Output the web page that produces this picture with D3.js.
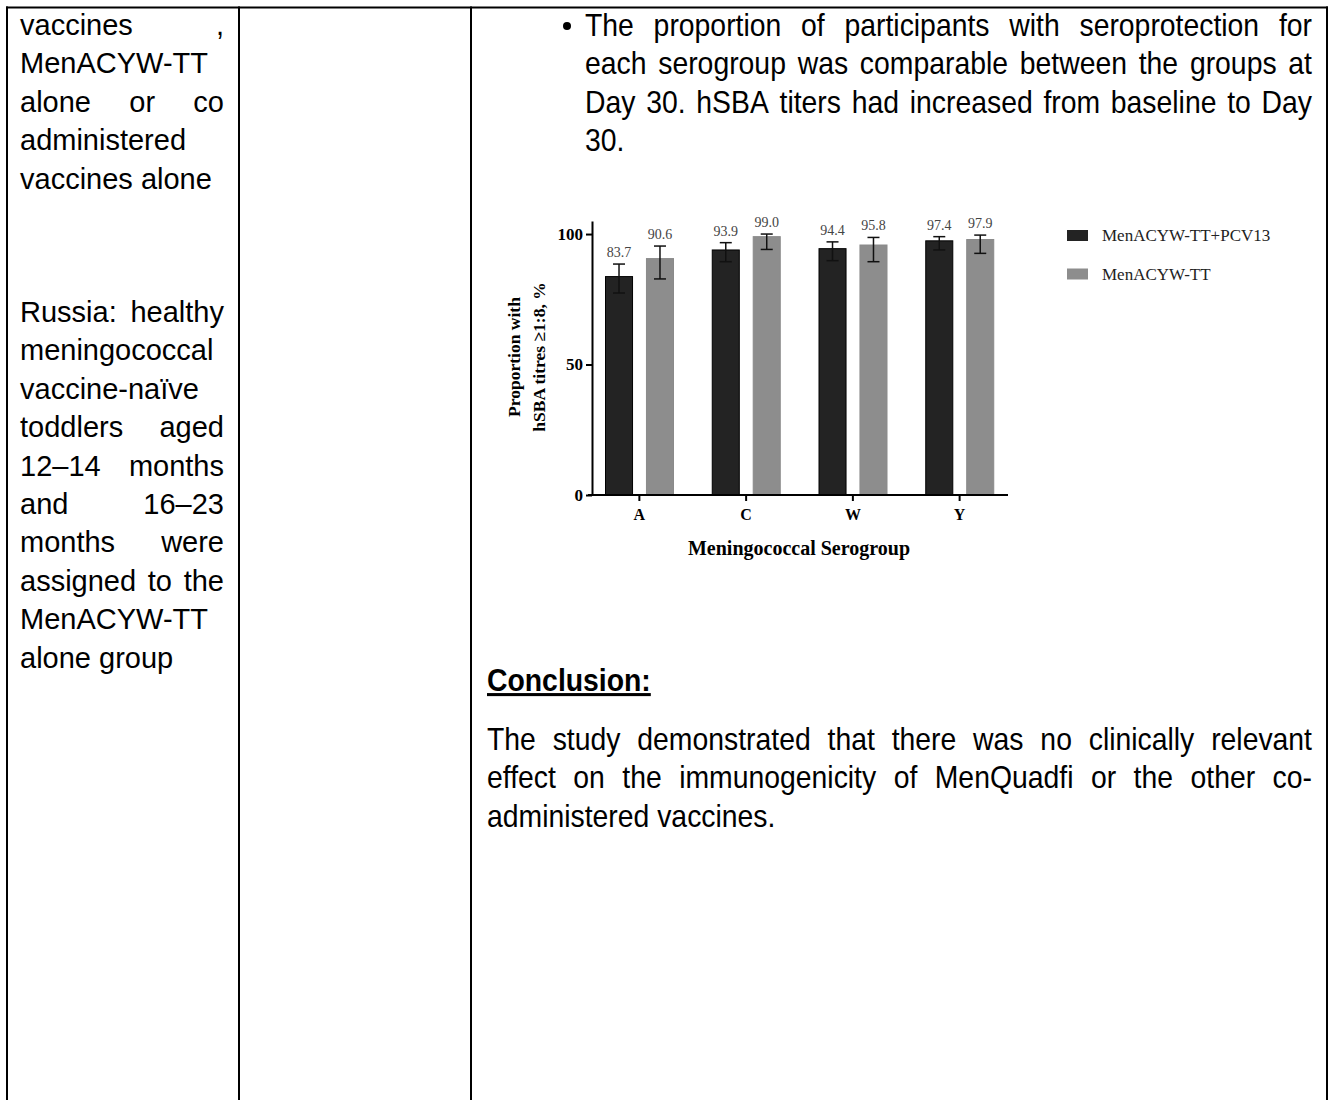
<!DOCTYPE html>
<html>
<head>
<meta charset="utf-8">
<script src="https://cdn.jsdelivr.net/npm/d3@7"></script>
<style>
  body { margin: 0; background: #fff; }
  svg { display: block; }
</style>
</head>
<body>
<script>
// chart data: serogroups and the two study groups
var serogroups = ["A", "C", "W", "Y"];
var groupNames = ["MenACYW-TT+PCV13", "MenACYW-TT"];
var coadminPct = [83.7, 93.9, 94.4, 97.4];
var coadminLow = [77.4, 89.4, 89.8, 93.9];
var coadminHigh = [88.5, 96.7, 97.0, 99.0];
var alonePct = [90.6, 99.0, 95.8, 97.9];
var aloneLow = [82.8, 94.1, 89.4, 92.6];
var aloneHigh = [95.4, 100.0, 98.7, 99.6];
var yTicks = [0, 50, 100];
var yTitle = ["Proportion with", "hSBA titres \u22651:8, %"];
var xTitle = "Meningococcal Serogroup";

// document text around the chart, [line, justified]
var leftPara1 = [["vaccines ,", true], ["MenACYW-TT", false], ["alone or co", true],
  ["administered", false], ["vaccines alone", false]];
var leftPara2 = [["Russia: healthy", true], ["meningococcal", false], ["vaccine-na\u00efve", false],
  ["toddlers aged", true], ["12\u201314 months", true], ["and 16\u201323", true],
  ["months were", true], ["assigned to the", true], ["MenACYW-TT", false], ["alone group", false]];
var bulletLines = [["The proportion of participants with seroprotection for", true],
  ["each serogroup was comparable between the groups at", true],
  ["Day 30. hSBA titers had increased from baseline to Day", true], ["30.", false]];
var conclusionHead = "Conclusion:";
var conclusionLines = [["The study demonstrated that there was no clinically relevant", true],
  ["effect on the immunogenicity of MenQuadfi or the other co-", true],
  ["administered vaccines.", false]];

var W = 1329, H = 1100;
var svg = d3.select("body").append("svg")
  .attr("width", W)
  .attr("height", H);

// table borders
var cols = [7, 239, 471, 1327];
svg.append("line").attr("x1", 6).attr("x2", 1328).attr("y1", 7.5).attr("y2", 7.5)
  .attr("stroke", "#000").attr("stroke-width", 2);
svg.selectAll(".colLine")
  .data(cols)
  .enter()
  .append("line")
    .attr("x1", function(d) { return d; })
    .attr("x2", function(d) { return d; })
    .attr("y1", 6.5)
    .attr("y2", H)
    .attr("stroke", "#000")
    .attr("stroke-width", 2);

var docFont = "'Liberation Sans', Arial, sans-serif";

// write one line, spreading words over the width when justified
function textLine(g, str, x, y, w, justify, size, weight) {
  var t = g.append("text")
    .attr("y", y)
    .attr("font-family", docFont)
    .attr("font-size", size)
    .attr("font-weight", weight || "normal")
    .attr("fill", "#000");
  var words = str.split(" ");
  if (!justify || words.length < 2) {
    t.attr("x", x).text(str);
    return t;
  }
  var widths = words.map(function(wd) {
    var tmp = g.append("text")
      .attr("font-family", docFont)
      .attr("font-size", size)
      .text(wd);
    var l = tmp.node().getComputedTextLength();
    tmp.remove();
    return l;
  });
  var gap = (w - d3.sum(widths)) / (words.length - 1);
  var cx = x;
  words.forEach(function(wd, i) {
    t.append("tspan").attr("x", cx).text(wd);
    cx += widths[i] + gap;
  });
  return t;
}

var lh = 38.4;
var left = svg.append("g");
leftPara1.forEach(function(l, i) { textLine(left, l[0], 20, 35 + i * lh, 204, l[1], 29); });
leftPara2.forEach(function(l, i) { textLine(left, l[0], 20, 322 + i * lh, 204, l[1], 29); });

// right column uses a slightly condensed face
var sx = 0.93, rSize = 30.5;
svg.append("circle").attr("cx", 567).attr("cy", 26).attr("r", 4).attr("fill", "#000");
var bullet = svg.append("g").attr("transform", "translate(585,0) scale(" + sx + ",1)");
bulletLines.forEach(function(l, i) { textLine(bullet, l[0], 0, 36 + i * lh, 727 / sx, l[1], rSize); });

var concl = svg.append("g").attr("transform", "translate(487,0) scale(" + sx + ",1)");
textLine(concl, conclusionHead, 0, 691, 0, false, rSize, "bold")
  .attr("text-decoration", "underline");
conclusionLines.forEach(function(l, i) { textLine(concl, l[0], 0, 750 + i * lh, 825 / sx, l[1], rSize); });

// ---- chart ----
var serif = "'Liberation Serif', 'Times New Roman', serif";
var chart = svg.append("g");

var rows = serogroups.map(function(s, i) {
  return {
    group: s,
    vals: [
      {key: groupNames[0], v: coadminPct[i], lo: coadminLow[i], hi: coadminHigh[i]},
      {key: groupNames[1], v: alonePct[i], lo: aloneLow[i], hi: aloneHigh[i]}
    ]
  };
});

var y = d3.scaleLinear()
  .domain([0, 105])
  .range([495, 221]);

var x0 = d3.scaleBand()
  .domain(serogroups)
  .range([586, 1013]);

var x1 = d3.scaleBand()
  .domain(groupNames)
  .range([19.5, 87.5])
  .paddingInner(0.34);

var color = d3.scaleOrdinal()
  .domain(groupNames)
  .range(["#232323", "#8d8d8d"]);

// bars
var grp = chart.selectAll(".grp")
  .data(rows)
  .enter()
  .append("g")
    .attr("transform", function(d) { return "translate(" + x0(d.group) + ",0)"; });

grp.selectAll("rect")
  .data(function(d) { return d.vals; })
  .enter()
  .append("rect")
    .attr("x", function(d) { return x1(d.key); })
    .attr("width", x1.bandwidth())
    .attr("y", function(d) { return y(d.v); })
    .attr("height", function(d) { return y(0) - y(d.v); })
    .attr("fill", function(d) { return color(d.key); })
    .attr("stroke", function(d, i) { return i == 0 ? "#000" : "#8a8a8a"; })
    .attr("stroke-width", 1);

// error bars
var err = grp.selectAll(".err")
  .data(function(d) { return d.vals; })
  .enter()
  .append("g")
    .attr("stroke", "#111")
    .attr("stroke-width", 1.5);
err.append("line")
  .attr("x1", function(d) { return x1(d.key) + x1.bandwidth() / 2; })
  .attr("x2", function(d) { return x1(d.key) + x1.bandwidth() / 2; })
  .attr("y1", function(d) { return y(d.lo); })
  .attr("y2", function(d) { return y(d.hi); });
err.append("line")
  .attr("x1", function(d) { return x1(d.key) + x1.bandwidth() / 2 - 6; })
  .attr("x2", function(d) { return x1(d.key) + x1.bandwidth() / 2 + 6; })
  .attr("y1", function(d) { return y(d.hi); })
  .attr("y2", function(d) { return y(d.hi); });
err.append("line")
  .attr("x1", function(d) { return x1(d.key) + x1.bandwidth() / 2 - 6; })
  .attr("x2", function(d) { return x1(d.key) + x1.bandwidth() / 2 + 6; })
  .attr("y1", function(d) { return y(d.lo); })
  .attr("y2", function(d) { return y(d.lo); });

// value labels
grp.selectAll(".lbl")
  .data(function(d) { return d.vals; })
  .enter()
  .append("text")
    .attr("x", function(d) { return x1(d.key) + x1.bandwidth() / 2; })
    .attr("y", function(d) { return y(d.hi) - 7; })
    .attr("text-anchor", "middle")
    .attr("font-family", serif)
    .attr("font-size", 14)
    .attr("fill", "#444")
    .text(function(d) { return d.v.toFixed(1); });

// Y axis
var yAxis = chart.append("g")
  .attr("transform", "translate(592,0)")
  .call(d3.axisLeft(y).tickValues(yTicks).tickSize(6).tickPadding(3).tickSizeOuter(0));
yAxis.select(".domain").attr("stroke-width", 2);
yAxis.selectAll(".tick line").attr("stroke-width", 2);
yAxis.selectAll(".tick text")
  .attr("font-family", serif)
  .attr("font-size", 17)
  .attr("font-weight", "bold")
  .attr("fill", "#000");

// X axis
var xAxis = chart.append("g")
  .attr("transform", "translate(0,495)")
  .call(d3.axisBottom(x0).tickSize(6).tickPadding(8).tickSizeOuter(0));
xAxis.select(".domain").attr("d", "M588,0H1008").attr("stroke-width", 2);
xAxis.selectAll(".tick line").attr("stroke-width", 2);
xAxis.selectAll(".tick text")
  .attr("font-family", serif)
  .attr("font-size", 16)
  .attr("font-weight", "bold")
  .attr("fill", "#000");

// axis titles
chart.append("text")
  .attr("x", 799)
  .attr("y", 555)
  .attr("text-anchor", "middle")
  .attr("font-family", serif)
  .attr("font-size", 20)
  .attr("font-weight", "bold")
  .text(xTitle);

chart.selectAll(".ytitle")
  .data(yTitle)
  .enter()
  .append("text")
    .attr("transform", function(d, i) { return "translate(" + (520 + i * 25) + ",357) rotate(-90)"; })
    .attr("text-anchor", "middle")
    .attr("font-family", serif)
    .attr("font-size", 17.5)
    .attr("font-weight", "bold")
    .text(function(d) { return d; });

// legend
var legend = chart.selectAll(".leg")
  .data(groupNames)
  .enter()
  .append("g")
    .attr("transform", function(d, i) { return "translate(1067," + (230 + i * 38.5) + ")"; });
legend.append("rect")
  .attr("width", 21)
  .attr("height", 11)
  .attr("fill", function(d) { return color(d); });
legend.append("text")
  .attr("x", 35)
  .attr("y", 11)
  .attr("font-family", serif)
  .attr("font-size", 17)
  .attr("fill", "#222")
  .text(function(d) { return d; });
</script>
</body>
</html>
